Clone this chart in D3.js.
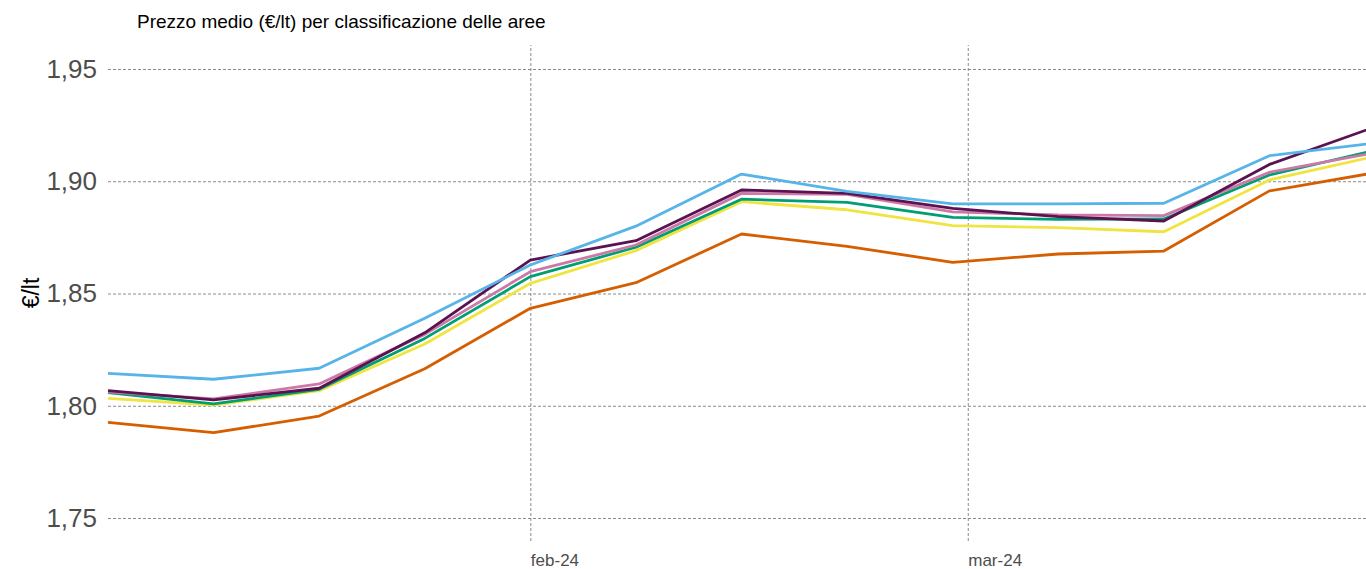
<!DOCTYPE html>
<html>
<head>
<meta charset="utf-8">
<script src="https://cdn.jsdelivr.net/npm/d3@7"></script>
<style>
  html, body { margin: 0; padding: 0; background: #fff; }
  svg { display: block; font-family: "Liberation Sans", Arial, sans-serif; }
</style>
</head>
<body>
<div id="plotarea"></div>
<script>
// dati settimanali (giovedi)
var dates = ["2024-01-04", "2024-01-11", "2024-01-18", "2024-01-25", "2024-02-01", "2024-02-08", "2024-02-15",
             "2024-02-22", "2024-02-29", "2024-03-07", "2024-03-14", "2024-03-21", "2024-03-28"];

var serieOrange = [1.7926, 1.7880, 1.7954, 1.8165, 1.8434, 1.8548, 1.8765, 1.8710, 1.8639, 1.8676, 1.8689, 1.8957, 1.9038];
var serieYellow = [1.8033, 1.8003, 1.8067, 1.8275, 1.8545, 1.8691, 1.8909, 1.8873, 1.8802, 1.8793, 1.8775, 1.9006, 1.9111];
var serieGreen  = [1.8058, 1.8008, 1.8073, 1.8300, 1.8575, 1.8706, 1.8920, 1.8906, 1.8839, 1.8830, 1.8832, 1.9028, 1.9138];
var seriePink   = [1.8062, 1.8031, 1.8097, 1.8318, 1.8597, 1.8716, 1.8946, 1.8942, 1.8864, 1.8850, 1.8847, 1.9040, 1.9127];
var seriePurple = [1.8067, 1.8026, 1.8078, 1.8325, 1.8649, 1.8735, 1.8961, 1.8946, 1.8879, 1.8842, 1.8823, 1.9075, 1.9242];
var serieBlue   = [1.8144, 1.8118, 1.8167, 1.8390, 1.8627, 1.8800, 1.9032, 1.8955, 1.8899, 1.8899, 1.8902, 1.9114, 1.9170];

var yTicks = [1.75, 1.80, 1.85, 1.90, 1.95];
var xTicks = ["2024-02-01", "2024-03-01"];

var width = 1366;
var height = 569;

var parseDate = d3.timeParse("%Y-%m-%d");
var itMonth = ["gen", "feb", "mar", "apr", "mag", "giu", "lug", "ago", "set", "ott", "nov", "dic"];

var series = [
    {color: "#D55E00", values: serieOrange},
    {color: "#F0E442", values: serieYellow},
    {color: "#009E73", values: serieGreen},
    {color: "#CC79A7", values: seriePink},
    {color: "#5A1250", values: seriePurple},
    {color: "#56B4E9", values: serieBlue}
];

var xScale = d3.scaleTime()
    .domain([parseDate(dates[0]), parseDate(dates[dates.length - 1])])
    .range([108, 1375]);
var yScale = d3.scaleLinear().domain([1.75, 1.95]).range([518, 69]);

var panelLeft = 108, panelRight = width, panelTop = 45, panelBottom = 541;

var svg = d3.select("#plotarea").append("svg")
    .attr("width", width)
    .attr("height", height);

// griglia orizzontale
var yAxis = d3.axisLeft(yScale)
    .tickValues(yTicks)
    .tickSize(-(panelRight - panelLeft))
    .tickPadding(11)
    .tickFormat(function(d){ return d3.format(".2f")(d).replace(".", ","); });

var yg = svg.append("g")
    .attr("transform", "translate(" + panelLeft + ",0)")
    .call(yAxis);
yg.select(".domain").remove();
yg.selectAll("line")
    .attr("stroke", "#8a8a8a")
    .attr("stroke-width", 1)
    .attr("stroke-dasharray", "3,2");
yg.selectAll("text")
    .attr("fill", "#4d4d4d")
    .attr("font-size", 26);

// griglia verticale
var xAxis = d3.axisBottom(xScale)
    .tickValues(xTicks.map(parseDate))
    .tickSize(-(panelBottom - panelTop))
    .tickPadding(13)
    .tickFormat(function(d){ return itMonth[d.getMonth()] + "-" + d3.timeFormat("%y")(d); });

var xg = svg.append("g")
    .attr("transform", "translate(0," + panelBottom + ")")
    .call(xAxis);
xg.select(".domain").remove();
xg.selectAll("line")
    .attr("stroke", "#8a8a8a")
    .attr("stroke-width", 1)
    .attr("stroke-dasharray", "3,2");
xg.selectAll("text")
    .attr("fill", "#4d4d4d")
    .attr("font-size", 17)
    .attr("text-anchor", "start");

// linee
var line = d3.line()
    .x(function(d, i){ return xScale(parseDate(dates[i])); })
    .y(function(d){ return yScale(d); });

svg.append("g").attr("class", "lines")
    .selectAll("path")
    .data(series)
    .enter()
    .append("path")
    .attr("fill", "none")
    .attr("stroke", function(d){ return d.color; })
    .attr("stroke-width", 2.8)
    .attr("stroke-linejoin", "round")
    .attr("d", function(d){ return line(d.values); });

// titolo
svg.append("text")
    .attr("x", 137)
    .attr("y", 28)
    .attr("font-size", 19)
    .attr("fill", "#000")
    .text("Prezzo medio (€/lt) per classificazione delle aree");

// etichetta asse y
svg.append("text")
    .attr("transform", "translate(39," + ((panelTop + panelBottom) / 2) + ") rotate(-90)")
    .attr("text-anchor", "middle")
    .attr("font-size", 23)
    .attr("fill", "#000")
    .text("€/lt");
</script>
</body>
</html>
